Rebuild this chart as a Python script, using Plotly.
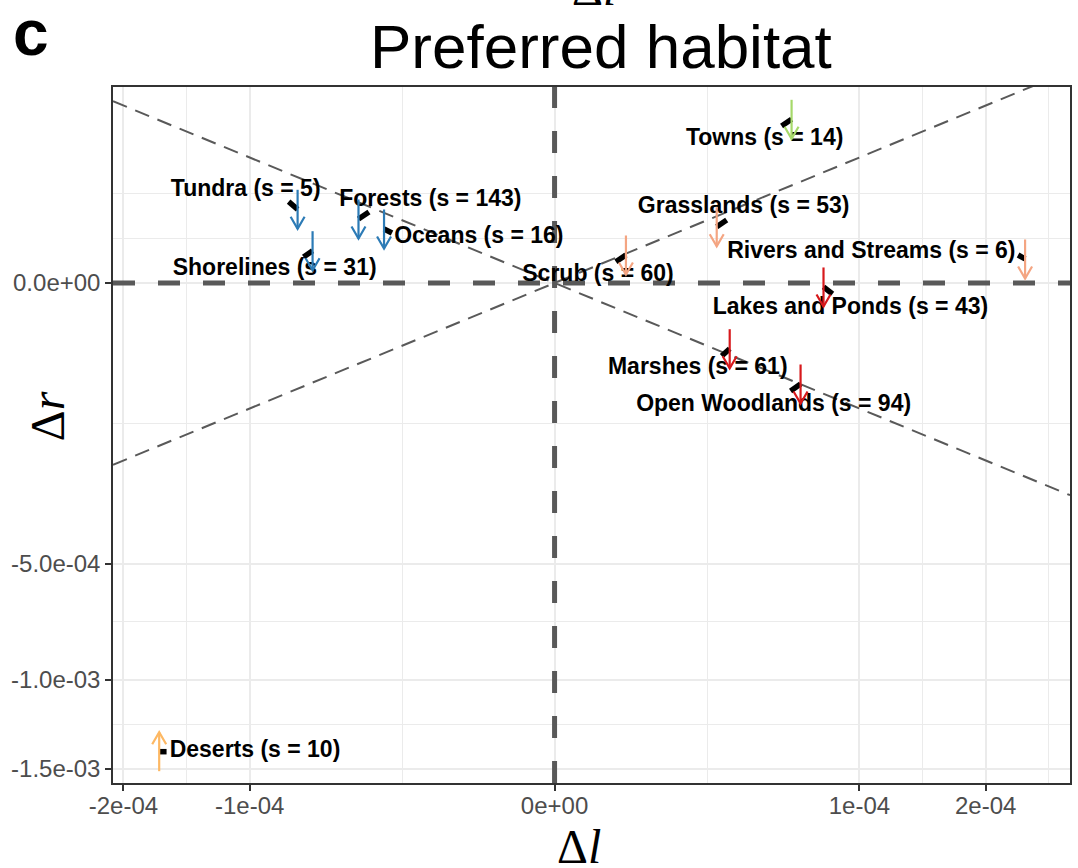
import numpy as np
import plotly.graph_objects as go

# ---------------- data ----------------
habitats = ["Towns", "Tundra", "Shorelines", "Forests", "Oceans", "Grasslands",
            "Scrub", "Rivers and Streams", "Lakes and Ponds", "Marshes",
            "Open Woodlands", "Deserts"]
n_species = [14, 5, 31, 143, 16, 53, 60, 6, 43, 61, 94, 10]

# current position (where the arrow sits)
delta_l = [0.6044e-4, -0.7105e-4, -0.6301e-4, -0.4137e-4, -0.3129e-4, 0.2829e-4,
           0.0548e-4, 2.382e-4, 0.7782e-4, 0.3300e-4, 0.6511e-4, -1.6820e-4]
delta_r = [1.7014e-4, 0.3449e-4, 0.0662e-4, 0.2601e-4, 0.1851e-4, 0.2012e-4,
           0.0498e-4, 0.0366e-4, -0.0010e-4, -0.2741e-4, -0.6477e-4, -13.948e-4]
# other end of the short trajectory segment
delta_l_end = [0.5546e-4, -0.7610e-4, -0.6777e-4, -0.3707e-4, -0.2843e-4, 0.3188e-4,
               0.0405e-4, 2.312e-4, 0.8310e-4, 0.3006e-4, 0.5993e-4, -1.6198e-4]
delta_r_end = [1.565e-4, 0.4197e-4, 0.0429e-4, 0.3201e-4, 0.1587e-4, 0.2520e-4,
               0.0288e-4, 0.0498e-4, -0.0077e-4, -0.3384e-4, -0.7406e-4, -13.948e-4]
trend = ["down", "down", "down", "down", "down", "down",
         "down", "down", "down", "down", "down", "up"]
trend_class = ["green", "blue", "blue", "blue", "blue", "salmon",
               "salmon", "salmon", "red", "red", "red", "orange"]

x_breaks = [-2e-4, -1e-4, 0.0, 1e-4, 2e-4]
x_labels = ["-2e-04", "-1e-04", "0e+00", "1e-04", "2e-04"]
y_breaks = [-1.5e-3, -1.0e-3, -5.0e-4, 0.0]
y_labels = ["-1.5e-03", "-1.0e-03", "-5.0e-04", "0.0e+00"]
ref_slopes = [1.0, -1.0]

# ---------------- style / layout ----------------
W, H = 1078, 868
ML, MR, MT, MB = 113, 6, 87, 85
PW, PH = W - ML - MR, H - MT - MB
x_lim_raw = (-2.098e-4, 2.8585e-4)
y_lim_raw = (-1.5874e-3, 2.439e-4)

class_colors = {"green": "#A6D96A", "blue": "#2C7BB6", "salmon": "#F4A582",
                "red": "#D7191C", "orange": "#FDB863"}
# label offsets in pixels (dx right, dy down) relative to the arrow point
label_offsets = [(-27, 20), (-52, -19), (-38, 19), (72, -19), (95, 8), (27, -19),
                 (-28, 20), (-154, -7), (27, 21), (-32, 20), (-27, 21), (96, 0)]


def st(v):
    v = np.asarray(v, dtype=float)
    return np.sign(v) * np.sqrt(np.abs(v)) * 100.0


xr = [float(st(x_lim_raw[0])), float(st(x_lim_raw[1]))]
yr = [float(st(y_lim_raw[0])), float(st(y_lim_raw[1]))]
ppx = PW / (xr[1] - xr[0])
ppy = PH / (yr[1] - yr[0])


def minor_breaks(majors, lim):
    b = sorted(majors)
    bd = b[1] - b[0]
    if lim[0] < b[0]:
        b = [b[0] - bd] + b
    if lim[1] > b[-1]:
        b = b + [b[-1] + bd]
    out = []
    for a, c in zip(b[:-1], b[1:]):
        out.append((a + c) / 2)
    out.append(b[-1])
    return [m for m in out if lim[0] <= m <= lim[1]
            and all(abs(m - k) > 1e-9 for k in majors)]


xt = list(st(x_breaks))
yt = list(st(y_breaks))
x_minor = minor_breaks(xt, xr)
y_minor = minor_breaks(yt, yr)

fig = go.Figure()
GREY = "#595959"

# zero lines
fig.add_trace(go.Scatter(x=[xr[0], xr[1]], y=[0, 0], mode="lines",
                         line=dict(color=GREY, width=5, dash="22px,23px"),
                         hoverinfo="skip", showlegend=False))
fig.add_trace(go.Scatter(x=[0, 0], y=[yr[0], yr[1]], mode="lines",
                         line=dict(color=GREY, width=5, dash="22px,23px"),
                         hoverinfo="skip", showlegend=False))
# reference diagonals
for s in ref_slopes:
    xs = np.array([x_lim_raw[0], x_lim_raw[1]])
    fig.add_trace(go.Scatter(x=st(xs), y=st(s * xs), mode="lines",
                             line=dict(color=GREY, width=2, dash="15px,9px"),
                             hoverinfo="skip", showlegend=False))

# labels
px_l = st(delta_l)
px_r = st(delta_r)
lab_x = [px_l[i] + label_offsets[i][0] / ppx for i in range(len(habitats))]
lab_y = [px_r[i] - label_offsets[i][1] / ppy for i in range(len(habitats))]
lab_t = [f"<b>{h} (s = {n})</b>" for h, n in zip(habitats, n_species)]
fig.add_trace(go.Scatter(x=lab_x, y=lab_y, mode="text", text=lab_t,
                         textposition="middle center",
                         textfont=dict(family="Liberation Sans, Arial, sans-serif",
                                       size=23, color="black"),
                         hoverinfo="skip", showlegend=False, cliponaxis=False))

# trajectory segments
sx, sy = [], []
for i in range(len(habitats)):
    sx += [float(st(delta_l_end[i])), float(px_l[i]), None]
    sy += [float(st(delta_r_end[i])), float(px_r[i]), None]
fig.add_trace(go.Scatter(x=sx, y=sy, mode="lines",
                         line=dict(color="black", width=5.5),
                         hoverinfo="skip", showlegend=False))

# arrows
half_len = 19.5 / ppy
head_w = 7.0 / ppx
head_h = 12.0 / ppy
for i in range(len(habitats)):
    x0 = float(px_l[i])
    yc = float(px_r[i])
    sgn = -1 if trend[i] == "down" else 1
    tail = yc - sgn * half_len
    tip = yc + sgn * half_len
    ax = [x0, x0, None, x0 - head_w, x0, x0 + head_w]
    ay = [tail, tip, None, tip - sgn * head_h, tip, tip - sgn * head_h]
    fig.add_trace(go.Scatter(x=ax, y=ay, mode="lines",
                             line=dict(color=class_colors[trend_class[i]], width=2.2),
                             hoverinfo="skip", showlegend=False))


def pxx(p):
    return (p - ML) / PW


def pxy(p):
    return (H - MB - p) / PH


annos = [
    dict(text="Preferred habitat", x=pxx(602), y=pxy(47),
         font=dict(family="Liberation Sans, Arial, sans-serif", size=62, color="black")),
    dict(text="<b>c</b>", x=pxx(31), y=pxy(33),
         font=dict(family="Liberation Sans, Arial, sans-serif", size=64, color="black")),
    dict(text="Δ<i>l</i>", x=pxx(580), y=pxy(846),
         font=dict(family="Liberation Serif, DejaVu Serif, serif", size=48, color="black")),
    dict(text="Δ<i>r</i>", x=pxx(47), y=pxy(416), textangle=-90,
         font=dict(family="Liberation Serif, DejaVu Serif, serif", size=48, color="black")),
    dict(text="Δ<i>l</i>", x=pxx(595), y=pxy(-12),
         font=dict(family="Liberation Serif, DejaVu Serif, serif", size=48, color="black")),
]
for a in annos:
    fig.add_annotation(xref="paper", yref="paper", showarrow=False,
                       xanchor="center", yanchor="middle", **a)

axis_common = dict(showgrid=True, gridcolor="#EBEBEB", gridwidth=2, zeroline=False,
                   showline=True, mirror=True, linecolor="#333333", linewidth=1.5,
                   ticks="outside", ticklen=6, tickwidth=2, tickcolor="#333333",
                   tickfont=dict(family="Liberation Sans, Arial, sans-serif",
                                 size=24, color="#4D4D4D"),
                   fixedrange=True)
fig.update_xaxes(range=xr, tickmode="array", tickvals=xt, ticktext=x_labels,
                 minor=dict(tickvals=x_minor, showgrid=True, gridcolor="#EBEBEB",
                            gridwidth=1.2, ticks=""),
                 ticklabelstandoff=-6,
                 **axis_common)
fig.update_yaxes(range=yr, tickmode="array", tickvals=yt, ticktext=y_labels,
                 minor=dict(tickvals=y_minor, showgrid=True, gridcolor="#EBEBEB",
                            gridwidth=1.2, ticks=""),
                 **axis_common)
fig.update_layout(width=W, height=H, autosize=False,
                  margin=dict(l=ML, r=MR, t=MT, b=MB),
                  paper_bgcolor="white", plot_bgcolor="white",
                  showlegend=False)
fig.write_html("out.html", config={"displayModeBar": False},
               post_script="document.body.style.margin='0px';"
                           "document.body.style.overflow='hidden';")
